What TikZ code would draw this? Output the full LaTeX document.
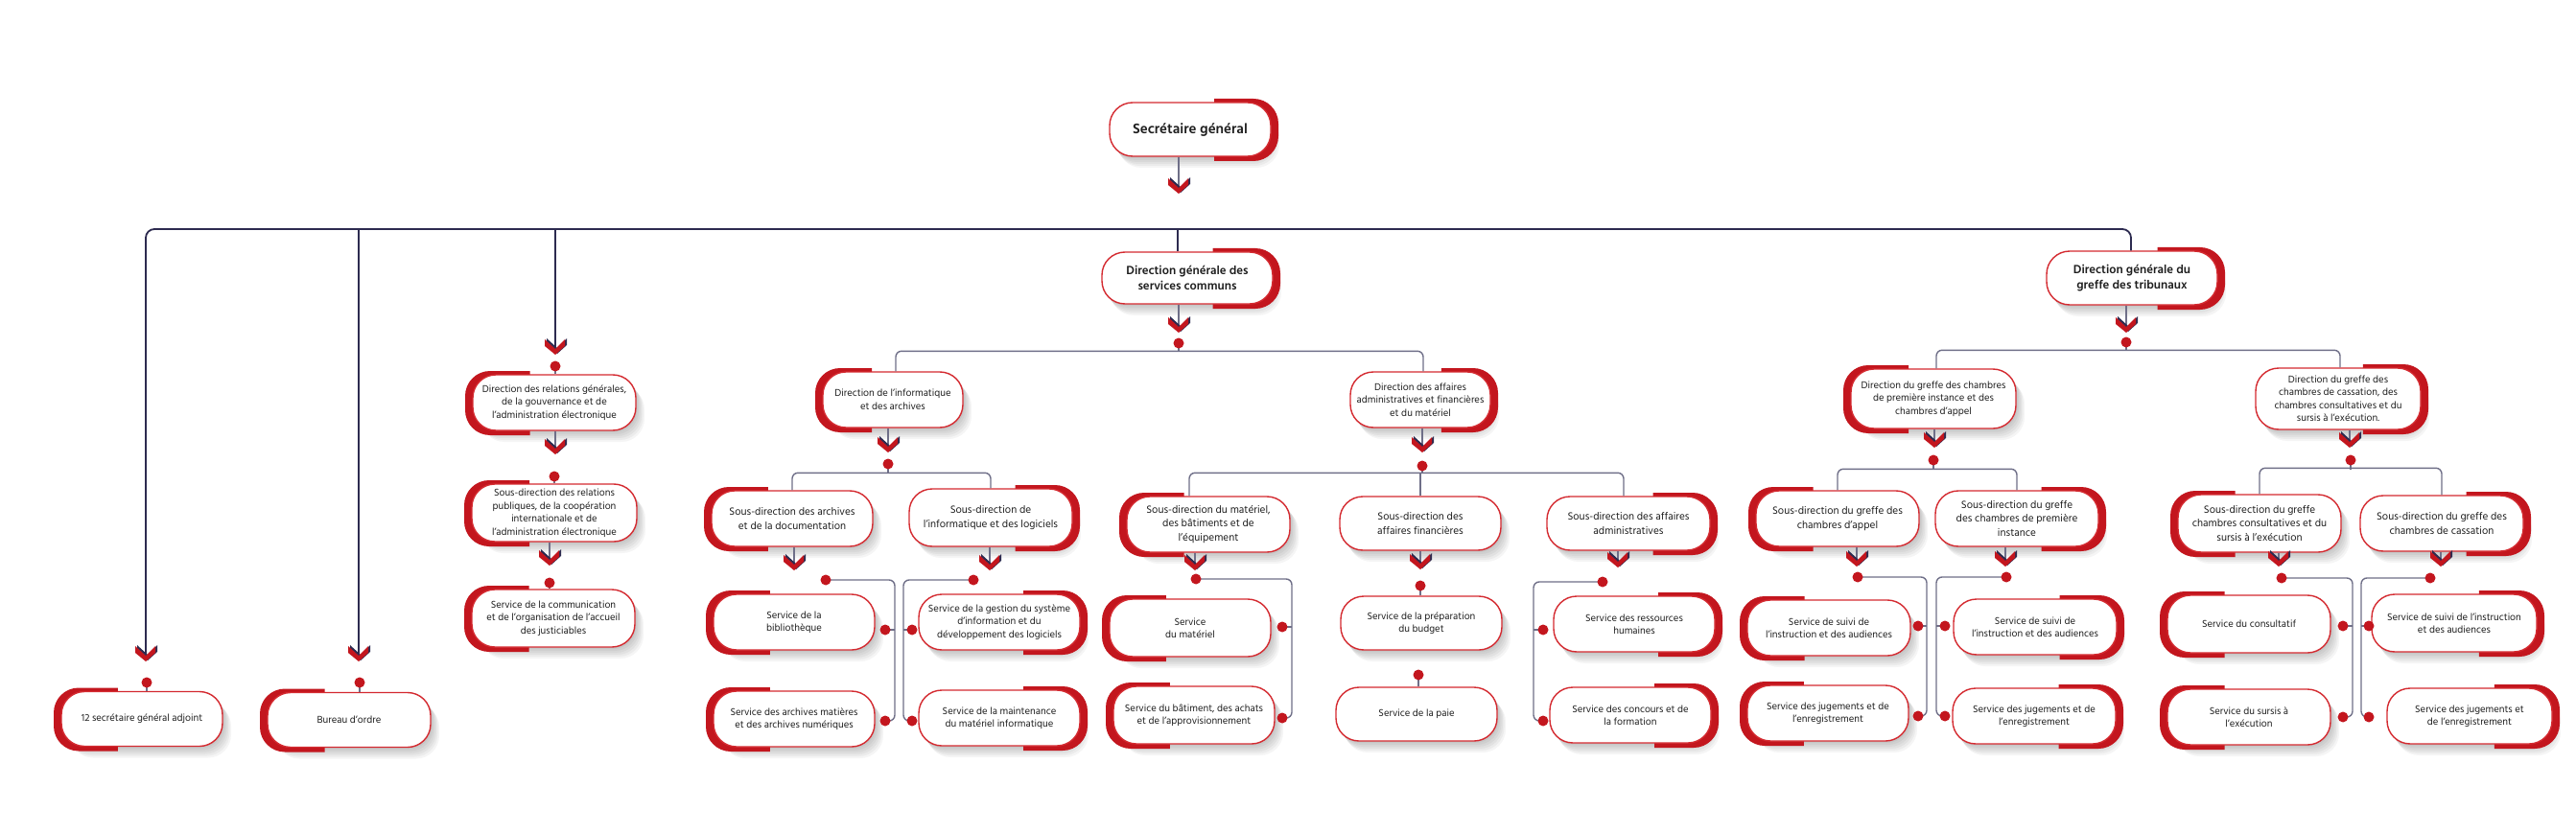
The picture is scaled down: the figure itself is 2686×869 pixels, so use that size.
\documentclass[tikz,border=0pt]{standalone}
\usepackage{fontspec}
\setmainfont{Hind Madurai}
\usetikzlibrary{calc}
\definecolor{accred}{HTML}{C3161E}
\definecolor{bordred}{HTML}{D42A30}
\definecolor{navy}{HTML}{2D2B50}
\definecolor{lgray}{HTML}{6F6F88}
\definecolor{txt}{HTML}{1E1E1E}
\tikzset{
  pill/.style={draw=bordred, line width=1.4pt, fill=white, rounded corners=24pt, align=center,
    inner sep=2pt, text=txt, font=\fontsize{10.6}{13.5}\selectfont},
  med/.style={font=\fontsize{11.2}{14.5}\selectfont},
  titleA/.style={font=\fontsize{15}{18}\selectfont\bfseries},
  titleB/.style={font=\fontsize{12.8}{16.5}\selectfont\bfseries},
  gline/.style={draw=lgray, line width=1.4pt},
  bus/.style={draw=navy, line width=1.8pt},
  chev/.pic={
    \fill[navy] (-9,-17) -- (2,-7) -- (12,-17) -- (12,-10) -- (2,-1) -- (-9,-10) -- cycle;
    \fill[accred] (-11,-16) -- (0,-6) -- (10,-16) -- (10,-9) -- (0,0) -- (-11,-9) -- cycle;
  }
}
\newcommand\pbox[8]{%
  \foreach \k in {1,...,6}{%
    \fill[black,opacity=0.04,rounded corners=24pt] (#2-#4/2+1.5*\k,#3-#5/2+2*\k) rectangle ++(#4,#5);}%
  \if#6R
    \begin{scope}
      \clip (#2+0.15*#4,#3-#5/2-10) rectangle (#2+#4/2+16,#3+#5/2+12);
      \fill[accred,rounded corners=26pt] (#2-#4/2+6,#3-#5/2-4) rectangle (#2+#4/2+8,#3+#5/2+5);
    \end{scope}
  \fi
  \if#6L
    \begin{scope}
      \clip (#2-0.15*#4,#3-#5/2-10) rectangle (#2-#4/2-16,#3+#5/2+12);
      \fill[accred,rounded corners=26pt] (#2-#4/2-8,#3-#5/2-4) rectangle (#2+#4/2-6,#3+#5/2+5);
    \end{scope}
  \fi
  \node[pill,minimum width=#4pt,minimum height=#5pt,#7] (#1) at (#2,#3) {#8};
}
\newcommand\chv[3]{\coordinate (#1) at (#2,#3);}
\begin{document}
\begin{tikzpicture}[x=1pt,y=-1pt]
\useasboundingbox[fill=white] (0,0) rectangle (2686,869);
% ---------- boxes ----------
\pbox{SG}{1241}{135}{168}{56}{R}{titleA}{Secrétaire général}
\pbox{DGSC}{1238}{290}{178}{54}{R}{titleB}{Direction générale des\\services communs}
\pbox{DGGT}{2223}{290}{178}{56}{R}{titleB}{Direction générale du\\greffe des tribunaux}
\pbox{SSA}{148}{750}{168}{57}{L}{}{12 secrétaire général adjoint}
\pbox{BUR}{364}{751}{170}{57}{L}{}{Bureau d’ordre}
\pbox{DRG}{578}{420}{170}{58}{L}{}{Direction des relations générales,\\de la gouvernance et de\\l’administration électronique}
\pbox{SDRP}{578}{535}{172}{60}{L}{}{Sous-direction des relations\\publiques, de la coopération\\internationale et de\\l’administration électronique}
\pbox{SCOM}{577}{645}{170}{60}{L}{}{Service de la communication\\et de l’organisation de l’accueil\\des justiciables}
\pbox{DIA}{931}{417}{146}{58}{L}{}{Direction de l’informatique\\et des archives}
\pbox{SDAD}{826}{541}{168}{58}{L}{med}{Sous-direction des archives\\et de la documentation}
\pbox{SDIL}{1033}{540}{170}{60}{R}{med}{Sous-direction de\\l’informatique et des logiciels}
\pbox{SBIB}{828}{649}{168}{58}{L}{}{Service de la\\bibliothèque}
\pbox{SARC}{828}{750}{168}{58}{L}{}{Service des archives matières\\et des archives numériques}
\pbox{SGSI}{1042}{649}{168}{58}{R}{}{Service de la gestion du système\\d’information et du\\développement des logiciels}
\pbox{SMAI}{1042}{749}{168}{58}{R}{}{Service de la maintenance\\du matériel informatique}
\pbox{DAAF}{1481}{417}{146}{58}{R}{}{Direction des affaires\\administratives et financières\\et du matériel}
\pbox{SDMB}{1260}{547}{170}{58}{L}{med}{Sous-direction du matériel,\\des bâtiments et de\\l’équipement}
\pbox{SDAF}{1481}{546}{168}{56}{N}{med}{Sous-direction des\\affaires financières}
\pbox{SDAA}{1698}{546}{170}{56}{R}{med}{Sous-direction des affaires\\administratives}
\pbox{SMAT}{1241}{655}{168}{60}{L}{}{Service\\du matériel}
\pbox{SBAT}{1245}{746}{168}{60}{L}{}{Service du bâtiment, des achats\\et de l’approvisionnement}
\pbox{SBUD}{1482}{650}{168}{56}{N}{}{Service de la préparation\\du budget}
\pbox{SPAI}{1477}{745}{168}{56}{N}{}{Service de la paie}
\pbox{SRH}{1704}{651}{168}{58}{R}{}{Service des ressources\\humaines}
\pbox{SCF}{1700}{746}{168}{58}{R}{}{Service des concours et de\\la formation}
\pbox{DGPI}{2016}{416}{172}{62}{L}{}{Direction du greffe des chambres\\de première instance et des\\chambres d’appel}
\pbox{DGCC}{2438}{416}{172}{64}{R}{}{Direction du greffe des\\chambres de cassation, des\\chambres consultatives et du\\sursis à l’exécution.}
\pbox{SDCA}{1916}{541}{170}{58}{L}{med}{Sous-direction du greffe des\\chambres d’appel}
\pbox{SDPI}{2103}{541}{170}{58}{R}{med}{Sous-direction du greffe\\des chambres de première\\instance}
\pbox{SDCS}{2356}{546}{170}{60}{L}{med}{Sous-direction du greffe\\chambres consultatives et du\\sursis à l’exécution}
\pbox{SDCC}{2546}{546}{170}{58}{R}{med}{Sous-direction du greffe des\\chambres de cassation}
\pbox{SSIa}{1907}{655}{170}{58}{L}{}{Service de suivi de\\l’instruction et des audiences}
\pbox{SJEa}{1906}{744}{168}{58}{L}{}{Service des jugements et de\\l’enregistrement}
\pbox{SSIb}{2122}{654}{170}{58}{R}{}{Service de suivi de\\l’instruction et des audiences}
\pbox{SJEb}{2121}{747}{170}{58}{R}{}{Service des jugements et de\\l’enregistrement}
\pbox{SCON}{2345}{651}{170}{60}{L}{}{Service du consultatif}
\pbox{SSIc}{2559}{650}{172}{60}{R}{}{Service de suivi de l’instruction\\et des audiences}
\pbox{SSUR}{2345}{748}{170}{58}{L}{}{Service du sursis à\\l’exécution}
\pbox{SJEc}{2575}{747}{172}{58}{R}{}{Service des jugements et\\de l’enregistrement}
% ---------- chevron and dot coordinates ----------
\chv{c0}{1229}{202}\chv{cA}{152}{690}\chv{cB}{374}{690}\chv{cC}{579}{370}
\chv{cD}{579}{474}\chv{cE}{573}{590}\chv{cF}{1229}{347}\chv{cG}{926}{472}
\chv{cH}{828}{595}\chv{cI}{1032}{595}\chv{cJ}{1483}{472}\chv{cK}{1246}{595}
\chv{cL}{1481}{594}\chv{cM}{1687}{592}\chv{cN}{2217}{347}\chv{cO}{2017}{467}
\chv{cP}{2450}{467}\chv{cQ}{1936}{591}\chv{cR}{2091}{591}\chv{cS}{2376}{591}
\chv{cT}{2545}{591}
\chv{dA}{153}{712}\chv{dB}{375}{712}\chv{dC}{579}{382}\chv{dD}{578}{497}
\chv{dE}{573}{608}\chv{dF}{1229}{358}\chv{dG}{926}{484}
\chv{dH}{861}{605}\chv{dHa}{923}{657}\chv{dHb}{923}{752}
\chv{dI}{1015}{605}\chv{dIa}{951}{657}\chv{dIb}{951}{752}
\chv{dJ}{1483}{486}
\chv{dK}{1247}{604}\chv{dKa}{1337}{654}\chv{dKb}{1337}{749}
\chv{dL}{1481}{611}\chv{dLb}{1479}{704}
\chv{dM}{1671}{607}\chv{dMa}{1609}{657}\chv{dMb}{1609}{752}
\chv{dN}{2217}{357}\chv{dO}{2016}{480}\chv{dP}{2451}{480}
\chv{dQ}{1937}{602}\chv{dQa}{2000}{653}\chv{dQb}{2000}{747}
\chv{dR}{2092}{602}\chv{dRa}{2028}{653}\chv{dRb}{2028}{747}
\chv{dS}{2379}{603}\chv{dSa}{2443}{653}\chv{dSb}{2443}{748}
\chv{dT}{2534}{603}\chv{dTa}{2470}{653}\chv{dTb}{2470}{748}
\coordinate (bR) at (2222,239);
% ---------- main bus ----------
\draw[bus, rounded corners=9pt] ($(cA)+(0,-8)$) -- (cA |- bR) -- (bR) -- (bR |- DGGT.north);
\draw[bus] (cB |- bR) -- ($(cB)+(0,-8)$);
\draw[bus] (cC |- bR) -- ($(cC)+(0,-8)$);
\draw[bus] ($(DGSC.north)+(-10,0)$) -- ++(0,-23);
% ---------- box to chevron links ----------
\foreach \n/\c in {SG/c0,DRG/cD,SDRP/cE,DGSC/cF,DIA/cG,SDAD/cH,SDIL/cI,DAAF/cJ,SDMB/cK,SDAF/cL,SDAA/cM,DGGT/cN,DGPI/cO,DGCC/cP,SDCA/cQ,SDPI/cR,SDCS/cS,SDCC/cT}
  \draw[gline] (\n.south -| \c) -- ($(\c)+(0,-8)$);
% ---------- dot stubs to boxes ----------
\foreach \d/\n in {dA/SSA,dB/BUR,dC/DRG,dD/SDRP,dE/SCOM,dL/SBUD,dLb/SPAI}
  \draw[gline] (\d) -- (\n.north -| \d);
% ---------- sub-buses ----------
\draw[gline] (dF) -- ++(0,9);
\draw[gline, rounded corners=6pt] ($(DIA.north)+(3,0)$) -- ++(0,-21) -| ($(DAAF.north)+(3,0)$);
\draw[gline] (dG) -- ++(0,10);
\draw[gline, rounded corners=6pt] (SDAD.north) -- ++(0,-18) -| (SDIL.north);
\draw[gline] (dJ) -- ++(0,8);
\draw[gline, rounded corners=6pt] ($(SDMB.north)+(-20,0)$) -- ++(0,-24) -| ($(SDAA.north)+(-5,0)$);
\draw[gline] (SDAF.north) -- ++(0,-24);
\draw[gline] (dN) -- ++(0,9);
\draw[gline, rounded corners=6pt] ($(DGPI.north)+(3,0)$) -- ++(0,-19) -| ($(DGCC.north)+(2,0)$);
\draw[gline] (dO) -- ++(0,10);
\draw[gline, rounded corners=6pt] (SDCA.north) -- ++(0,-22) -| (SDPI.north);
\draw[gline] (dP) -- ++(0,10);
\draw[gline, rounded corners=6pt] (SDCS.north) -- ++(0,-27) -| (SDCC.north);
% ---------- service columns ----------
\foreach \t/\a/\b/\s in {dH/dHa/dHb/10,dI/dIa/dIb/-9,dK/dKa/dKb/10,dM/dMa/dMb/-10,dQ/dQa/dQb/9,dR/dRa/dRb/-9,dS/dSa/dSb/10,dT/dTa/dTb/-8}{
  \draw[gline, rounded corners=6pt] (\t) -| ($(\b)+(\s,0)$) -- (\b);
  \draw[gline] (\a) -- ++(\s,0);
}
% ---------- chevrons ----------
\foreach \c in {c0,cA,cB,cC,cD,cE,cF,cG,cH,cI,cJ,cK,cL,cM,cN,cO,cP,cQ,cR,cS,cT}
  \pic at (\c) {chev};
% ---------- dots ----------
\foreach \d in {dA,dB,dC,dD,dE,dF,dG,dH,dHa,dHb,dI,dIa,dIb,dJ,dK,dKa,dKb,dL,dLb,dM,dMa,dMb,dN,dO,dP,dQ,dQa,dQb,dR,dRa,dRb,dS,dSa,dSb,dT,dTa,dTb}
  \fill[accred] (\d) circle (5.5);
\end{tikzpicture}
\end{document}
